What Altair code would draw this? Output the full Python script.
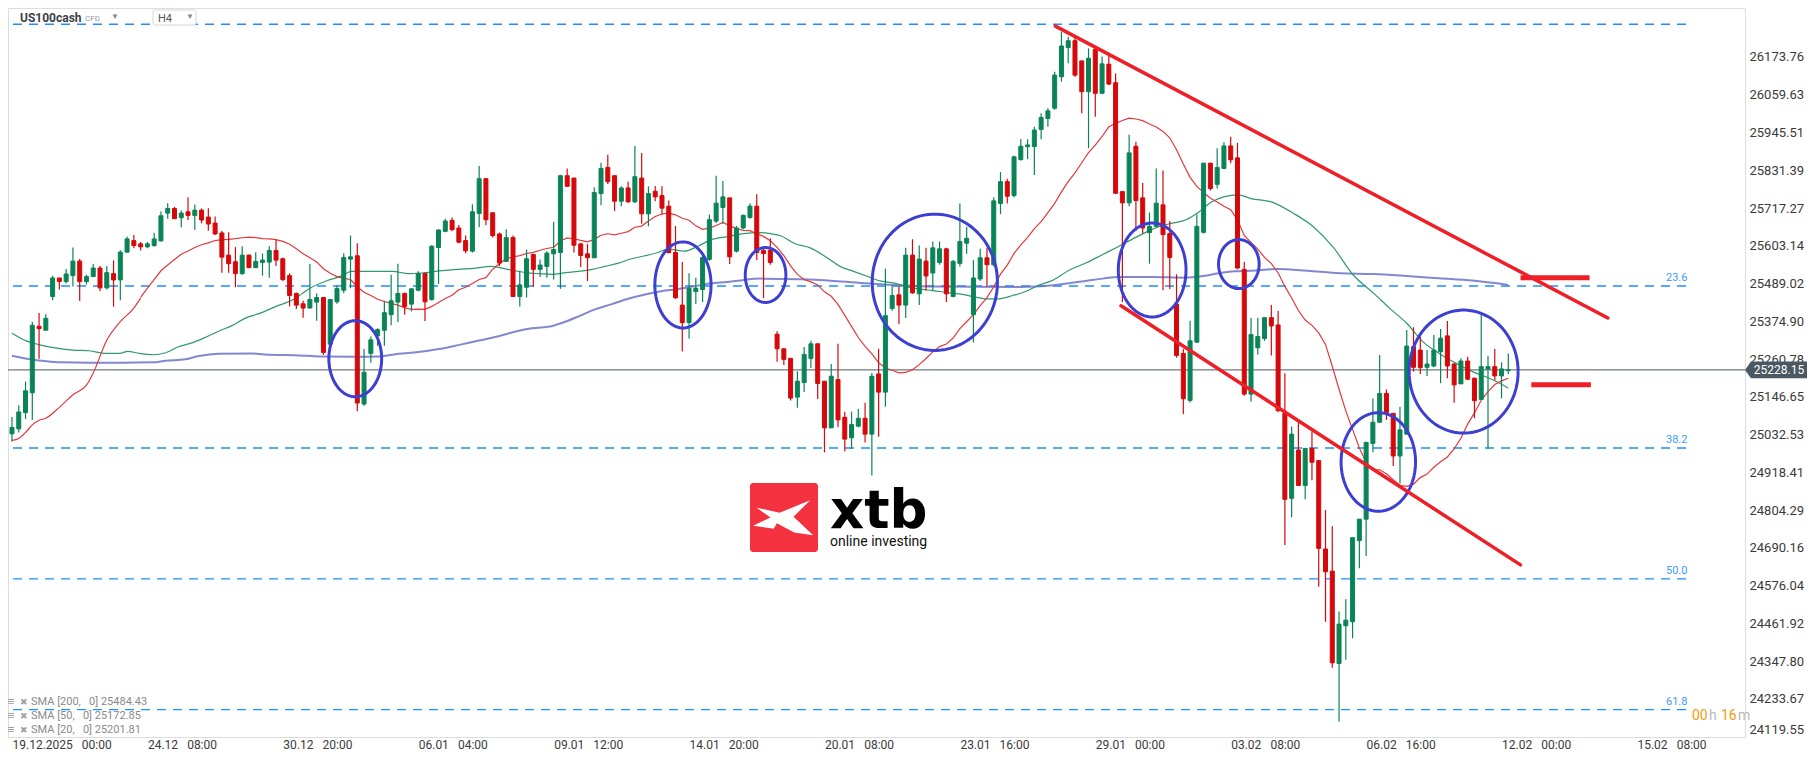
import json
import numpy as np
import pandas as pd
import altair as alt

# ---------------- US100cash H4 candles, index 0 = 19.12.2025 00:00 ----------------
opens = [25035, 25050, 25099, 25159, 25360, 25348, 25450, 25506, 25495, 25513,
         25557, 25495, 25510, 25536, 25476, 25519, 25500, 25584, 25619, 25609,
         25600, 25604, 25618, 25702, 25716, 25688, 25706, 25695, 25711, 25690,
         25672, 25642, 25575, 25555, 25519, 25575, 25537, 25553, 25554, 25589,
         25564, 25513, 25459, 25428, 25415, 25433, 25447, 25306, 25434, 25469,
         25563, 25573, 25125, 25278, 25331, 25348, 25395, 25433, 25459, 25427,
         25469, 25520, 25441, 25598, 25647, 25680, 25657, 25619, 25587, 25701,
         25806, 25703, 25639, 25556, 25628, 25450, 25478, 25577, 25532, 25541,
         25579, 25583, 25815, 25808, 25609, 25579, 25567, 25761, 25840, 25815,
         25738, 25778, 25736, 25808, 25700, 25768, 25755, 25723, 25583, 25424,
         25371, 25465, 25471, 25562, 25678, 25719, 25748, 25587, 25657, 25689,
         25723, 25589, 25589, 25336, 25292, 25263, 25146, 25190, 25263, 25307,
         25194, 25053, 25199, 25085, 25023, 25058, 25082, 25034, 25216, 25161,
         25414, 25455, 25424, 25575, 25458, 25557, 25521, 25553, 25594, 25450,
         25550, 25611, 25395, 25503, 25567, 25546, 25731, 25797, 25755, 25864,
         25903, 25903, 25955, 25988, 26019, 26114, 26202, 26223, 26162, 26069,
         26197, 26064, 26152, 26096, 25767, 25733, 25904, 25748, 25643, 25662,
         25727, 25640, 25427, 25278, 25136, 25312, 25644, 25853, 25789, 25837,
         25905, 25869, 25532, 25155, 25295, 25323, 25386, 25364, 25097, 24840,
         24986, 24879, 24991, 24954, 24687, 24620, 24341, 24455, 24467, 24712,
         24777, 25006, 25070, 25157, 25097, 24968, 25034, 25298, 25288, 25236,
         25240, 25283, 25331, 25246, 25186, 25255, 25203, 25139, 25231, 25238,
         25210, 25226]
highs = [25086, 25121, 25193, 25374, 25400, 25396, 25513, 25506, 25533, 25598,
         25563, 25516, 25548, 25542, 25542, 25559, 25590, 25631, 25636, 25615,
         25615, 25643, 25707, 25732, 25721, 25710, 25750, 25728, 25716, 25717,
         25692, 25648, 25644, 25599, 25602, 25577, 25584, 25580, 25602, 25621,
         25568, 25520, 25462, 25437, 25548, 25459, 25447, 25441, 25484, 25581,
         25634, 25611, 25291, 25329, 25354, 25437, 25516, 25549, 25462, 25475,
         25526, 25522, 25605, 25653, 25685, 25689, 25666, 25634, 25729, 25844,
         25806, 25703, 25643, 25653, 25634, 25528, 25592, 25579, 25562, 25587,
         25676, 25818, 25837, 25808, 25612, 25609, 25780, 25854, 25878, 25815,
         25783, 25797, 25905, 25884, 25783, 25784, 25783, 25740, 25663, 25554,
         25520, 25507, 25573, 25698, 25815, 25799, 25748, 25663, 25698, 25732,
         25759, 25600, 25626, 25345, 25292, 25263, 25224, 25297, 25316, 25307,
         25194, 25246, 25307, 25102, 25102, 25110, 25129, 25219, 25292, 25534,
         25483, 25480, 25597, 25623, 25604, 25597, 25616, 25616, 25597, 25560,
         25731, 25660, 25560, 25594, 25597, 25750, 25826, 25806, 25875, 25926,
         25925, 25963, 26004, 26019, 26129, 26250, 26235, 26235, 26162, 26200,
         26200, 26175, 26180, 26124, 25767, 25939, 25918, 25793, 25704, 25837,
         25831, 25678, 25517, 25291, 25377, 25698, 25853, 25853, 25898, 25916,
         25933, 25914, 25554, 25386, 25386, 25386, 25424, 25406, 25218, 25057,
         25072, 24991, 25042, 24954, 24805, 24756, 24498, 24535, 24721, 24777,
         25011, 25142, 25273, 25169, 25097, 25117, 25349, 25357, 25329, 25288,
         25334, 25352, 25376, 25248, 25263, 25268, 25205, 25394, 25271, 25291,
         25251, 25278]
lows = [25011, 25039, 25080, 25077, 25262, 25348, 25439, 25471, 25489, 25480,
        25436, 25486, 25510, 25466, 25471, 25419, 25439, 25584, 25596, 25589,
        25596, 25600, 25616, 25685, 25685, 25659, 25681, 25651, 25671, 25649,
        25636, 25522, 25522, 25478, 25516, 25537, 25537, 25513, 25507, 25542,
        25497, 25420, 25412, 25386, 25415, 25377, 25274, 25300, 25428, 25460,
        25475, 25103, 25120, 25250, 25301, 25301, 25363, 25373, 25395, 25405,
        25466, 25376, 25437, 25488, 25644, 25647, 25611, 25581, 25583, 25659,
        25665, 25628, 25542, 25556, 25450, 25420, 25447, 25479, 25509, 25507,
        25501, 25473, 25783, 25583, 25539, 25497, 25567, 25726, 25790, 25708,
        25723, 25733, 25732, 25670, 25662, 25738, 25698, 25580, 25443, 25284,
        25323, 25427, 25433, 25558, 25672, 25670, 25548, 25583, 25653, 25685,
        25560, 25445, 25546, 25253, 25243, 25136, 25114, 25161, 25234, 25140,
        24979, 25053, 25055, 24982, 24990, 25055, 25009, 24909, 25026, 25117,
        25407, 25367, 25385, 25458, 25424, 25468, 25469, 25546, 25433, 25448,
        25541, 25579, 25311, 25497, 25480, 25541, 25699, 25731, 25750, 25860,
        25865, 25817, 25925, 25963, 26014, 26099, 26155, 26114, 26004, 25898,
        25993, 26064, 26089, 25760, 25433, 25723, 25649, 25640, 25549, 25659,
        25469, 25473, 25265, 25094, 25130, 25310, 25640, 25770, 25776, 25835,
        25853, 25532, 25150, 25132, 25275, 25316, 25272, 25100, 24699, 24783,
        24879, 24837, 24895, 24573, 24467, 24328, 24165, 24352, 24417, 24629,
        24666, 24979, 25070, 25077, 24938, 24885, 25034, 25223, 25216, 25210,
        25236, 25188, 25203, 25129, 25186, 25198, 25082, 25139, 24991, 25196,
        25142, 25216]
closes = [25054, 25101, 25165, 25363, 25353, 25384, 25506, 25495, 25518, 25557,
          25495, 25510, 25536, 25476, 25522, 25500, 25584, 25624, 25604, 25600,
          25609, 25624, 25694, 25716, 25685, 25702, 25695, 25711, 25681, 25669,
          25639, 25569, 25549, 25519, 25575, 25537, 25556, 25560, 25589, 25560,
          25501, 25453, 25424, 25415, 25441, 25447, 25281, 25441, 25474, 25568,
          25570, 25128, 25221, 25319, 25350, 25401, 25437, 25459, 25420, 25473,
          25520, 25434, 25602, 25651, 25678, 25652, 25614, 25588, 25706, 25806,
          25682, 25634, 25551, 25628, 25450, 25485, 25564, 25532, 25545, 25581,
          25592, 25815, 25783, 25605, 25574, 25567, 25764, 25837, 25797, 25738,
          25778, 25736, 25812, 25700, 25761, 25751, 25717, 25583, 25446, 25371,
          25475, 25475, 25568, 25682, 25732, 25751, 25570, 25657, 25695, 25723,
          25583, 25580, 25553, 25292, 25260, 25143, 25194, 25275, 25307, 25187,
          25053, 25209, 25077, 25019, 25063, 25082, 25034, 25209, 25161, 25392,
          25453, 25424, 25575, 25461, 25563, 25512, 25597, 25594, 25458, 25556,
          25616, 25626, 25506, 25567, 25546, 25739, 25797, 25753, 25872, 25904,
          25908, 25953, 25991, 26011, 26119, 26207, 26223, 26119, 26069, 26170,
          26064, 26153, 26092, 25762, 25733, 25884, 25740, 25657, 25662, 25732,
          25637, 25568, 25272, 25141, 25316, 25662, 25853, 25776, 25840, 25905,
          25863, 25536, 25155, 25335, 25329, 25386, 25361, 25105, 24837, 25034,
          24879, 24991, 24949, 24689, 24618, 24343, 24460, 24472, 24721, 24777,
          25009, 25070, 25157, 25099, 24968, 25047, 25300, 25236, 25235, 25246,
          25288, 25324, 25240, 25183, 25255, 25200, 25135, 25238, 25238, 25210,
          25231, 25228.15]

# ---------------- moving averages (index, price) ----------------
sma20_head = [(0, 25015), (1, 25021), (2, 25039), (3, 25062), (4, 25076), (5, 25082),
              (7, 25115), (9, 25153), (11, 25182), (12, 25219), (14, 25318), (16, 25374),
              (18, 25415), (19, 25445)]
sma50 = [(0, 25339), (2.2, 25315), (4.1, 25304), (6.6, 25294), (9, 25288), (11.4, 25286),
         (13.9, 25278), (15.9, 25278), (17.1, 25284), (18.8, 25278), (20.8, 25274), (22.7, 25280),
         (24.6, 25298), (26.6, 25310), (28.6, 25327), (30.5, 25345), (32.5, 25362), (34.4, 25384),
         (36.6, 25399), (39, 25420), (41.5, 25440), (44, 25475), (46.4, 25497), (48.8, 25513),
         (50.1, 25526), (53.7, 25526), (56.2, 25526), (58.6, 25519), (61, 25522), (63.5, 25528),
         (65.9, 25532), (68.3, 25535), (70.8, 25541), (73.2, 25532), (75.9, 25522), (77.9, 25519),
         (79.8, 25517), (81.8, 25522), (83.7, 25526), (85.7, 25532), (87.6, 25541), (89.6, 25551),
         (91.5, 25564), (93.5, 25573), (95.4, 25583), (96.9, 25593), (99.3, 25587), (101.3, 25602),
         (103.2, 25621), (105.7, 25631), (108.1, 25640), (110.5, 25643), (112, 25640), (113.6, 25633),
         (115.5, 25611), (117.9, 25597), (120.4, 25567), (122.3, 25541), (124.3, 25526), (126.2, 25512),
         (128.2, 25497), (130.2, 25491), (132.1, 25480), (134.1, 25472), (136, 25468), (138, 25462),
         (139.9, 25458), (141.9, 25450), (143.8, 25443), (145.8, 25443), (147.8, 25453), (149.7, 25465),
         (151.3, 25481), (153.8, 25500), (156.2, 25530), (158.6, 25551), (161.1, 25577), (163.5, 25602),
         (165.9, 25628), (168.4, 25653), (170.8, 25669), (173.3, 25681), (175.2, 25704), (177.2, 25736),
         (179.1, 25752), (181.1, 25757), (183, 25746), (186, 25736), (189.3, 25701), (192.2, 25661),
         (195.1, 25600), (198.1, 25515), (201.1, 25460), (203.5, 25414), (206, 25369), (208.4, 25313),
         (210.8, 25278), (213.3, 25248), (215.7, 25223), (218.2, 25203), (220, 25185), (221, 25173)]
sma200 = [(0, 25271), (2.2, 25262), (5.1, 25254), (7.1, 25251), (11.4, 25250), (16.3, 25250),
          (20.8, 25251), (22.7, 25256), (25.6, 25260), (27.6, 25270), (30.5, 25277), (35.4, 25278),
          (37.3, 25275), (42.5, 25272), (45.4, 25269), (51.2, 25268), (54.2, 25269), (57.1, 25277),
          (60, 25282), (63, 25291), (65.9, 25303), (68.8, 25316), (71.7, 25329), (74.7, 25346),
          (76.8, 25354), (79.8, 25361), (81.2, 25370), (83.7, 25390), (86.1, 25411), (88.6, 25427),
          (91, 25443), (93.5, 25456), (95.9, 25466), (98.3, 25472), (100.8, 25481), (103.2, 25490),
          (105.7, 25494), (108.1, 25500), (110.5, 25504), (116.5, 25502), (121.4, 25497), (126.2, 25490),
          (131.1, 25484), (136, 25480), (148.9, 25479), (153.8, 25484), (158.6, 25497), (161.1, 25504),
          (163.5, 25509), (168.4, 25509), (173.3, 25507), (175.7, 25511), (178.2, 25520), (180.6, 25526),
          (183, 25528), (186.9, 25533), (191.3, 25528), (196.2, 25520), (201.1, 25518), (206, 25512),
          (210.8, 25505), (215.7, 25498), (221, 25485)]
sma_legend = ["SMA [200,\u2002 0] 25484.43", "SMA [50,\u2002 0] 25172.85", "SMA [20,\u2002 0] 25201.81"]

# ---------------- Fibonacci levels ----------------
fib_prices = [26272.6, 25481.6, 24992.0, 24596.6, 24201.4]
fib_labels = ["", "23.6", "38.2", "50.0", "61.8"]
FIB_END = 247.9

# ---------------- annotations (index / price units) ----------------
ell_cx = [50.7, 99.1, 111.3, 136.3, 168.4, 181.2, 201.8, 214.4]
ell_cy = [25262, 25485, 25515, 25493, 25530, 25548, 24950, 25223]
ell_rx = [3.9, 4.15, 3.0, 9.25, 5.0, 3.0, 5.5, 8.05]
ell_ry = [115, 130, 83, 206, 142, 74, 149, 186]
trend_id = ["upper", "upper", "lower", "lower"]
trend_i = [154.1, 235.7, 163.8, 222.8]
trend_p = [26267, 25385, 25422, 24639]
level_i0 = [222.8, 224.4]
level_i1 = [233.0, 233.2]
level_p = [25507, 25183]
last_price = 25228.15

# ---------------- axes ----------------
x_ticks = list(range(0, 241, 20))
x_labels = ["19.12.2025 \u200200:00", "24.12 \u200208:00", "30.12 \u200220:00", "06.01 \u200204:00",
            "09.01 \u200212:00", "14.01 \u200220:00", "20.01 \u200208:00", "23.01 \u200216:00",
            "29.01 \u200200:00", "03.02 \u200208:00", "06.02 \u200216:00", "12.02 \u200200:00",
            "15.02 \u200208:00"]
y_ticks = [24119.55, 24233.67, 24347.80, 24461.92, 24576.04, 24690.16, 24804.29, 24918.41,
           25032.53, 25146.65, 25260.78, 25374.90, 25489.02, 25603.14, 25717.27, 25831.39,
           25945.51, 26059.63, 26173.76]

XMIN, XMAX = 0.15, 255.22
PMIN, PMAX = 24118.76, 26321.84
W, H = 1737, 729

GREEN, RED = "#0a8457", "#d5090b"
C20, C50, C200 = "#e3383d", "#2f9a6a", "#6d71c9"
FIB = "#1e8fff"
ELL = "#3d3fd2"
TREND = "#ee1f26"

xs = alt.Scale(domain=[XMIN, XMAX], nice=False, zero=False)
ys = alt.Scale(domain=[PMIN, PMAX], nice=False, zero=False)
XAXIS = alt.Axis(values=x_ticks,
                 labelExpr=json.dumps(x_labels, ensure_ascii=False) + "[round(datum.value/20)]",
                 labelAlign="left", labelBaseline="top", labelPadding=2, ticks=False, domain=False,
                 grid=False, labelFont="Roboto", labelFontSize=12, labelColor="#3a3a3a",
                 labelFlush=False, labelOverlap=False)
YAXIS = alt.Axis(orient="right", values=y_ticks, labelExpr="format(datum.value, '.2f')",
                 ticks=False, domain=False, grid=False, labelPadding=4, labelFont="Roboto",
                 labelFontSize=13, labelColor="#3a3a3a", labelFlush=True, labelOverlap=False)


def X(f):
    return alt.X(f, type="quantitative", scale=xs, axis=XAXIS, title=None)


def Y(f):
    return alt.Y(f, type="quantitative", scale=ys, axis=YAXIS, title=None)


N = len(closes)
candles = pd.DataFrame({"i": np.arange(N), "open": opens, "high": highs, "low": lows, "close": closes})
candles["dir"] = np.where(candles["close"] >= candles["open"], "up", "down")
dir_scale = alt.Scale(domain=["up", "down"], range=[GREEN, RED])

one = pd.DataFrame({"k": [0]})

fib_df = pd.DataFrame({"p": fib_prices, "lab": fib_labels, "x0": XMIN, "x1": FIB_END})
fib_rules = alt.Chart(fib_df).mark_rule(strokeDash=[9, 7], strokeWidth=1.4, color=FIB).encode(
    x=X("x0"), x2="x1", y=Y("p"))
fib_text = alt.Chart(fib_df).mark_text(align="right", baseline="bottom", dx=-3, dy=-3,
                                       fontSize=11, font="Roboto", color="#3d9bff").encode(
    x=X("x1"), y=Y("p"), text="lab:N")

price_line = alt.Chart(pd.DataFrame({"p": [last_price]})).mark_rule(
    color="#4c5863", strokeWidth=1).encode(y=Y("p"))


def sma_df(pairs):
    return pd.DataFrame({"i": [a for a, _ in pairs], "v": [b for _, b in pairs]})


l200 = alt.Chart(sma_df(sma200)).mark_line(interpolate="monotone", strokeWidth=2, color=C200,
                                            opacity=0.85).encode(x=X("i"), y=Y("v"))
l50 = alt.Chart(sma_df(sma50)).mark_line(interpolate="monotone", strokeWidth=1.2, color=C50).encode(
    x=X("i"), y=Y("v"))
l20_head = alt.Chart(sma_df(sma20_head)).mark_line(interpolate="monotone", strokeWidth=1.2,
                                                    color=C20).encode(x=X("i"), y=Y("v"))
l20 = alt.Chart(candles).transform_window(
    sma="mean(close)", frame=[-19, 0], sort=[alt.SortField("i")]
).transform_filter("datum.i >= 19").mark_line(strokeWidth=1.2, color=C20).encode(
    x=X("i"), y=Y("sma"))

wicks = alt.Chart(candles).mark_rule(strokeWidth=1.2).encode(
    x=X("i"), y=Y("low"), y2="high",
    color=alt.Color("dir:N", scale=dir_scale, legend=None))
bodies = alt.Chart(candles).mark_bar(size=4, strokeWidth=1).encode(
    x=X("i"), y=Y("open"), y2="close",
    color=alt.Color("dir:N", scale=dir_scale, legend=None),
    stroke=alt.Stroke("dir:N", scale=dir_scale, legend=None))

t = np.linspace(0, 2 * np.pi, 91)
erows = []
for n, (cx, cy, rx, ry) in enumerate(zip(ell_cx, ell_cy, ell_rx, ell_ry)):
    for k, tt in enumerate(t):
        erows.append({"e": n, "k": k, "x": cx + rx * np.cos(tt), "y": cy + ry * np.sin(tt)})
ell = alt.Chart(pd.DataFrame(erows)).mark_line(strokeWidth=3, color=ELL, strokeJoin="round").encode(
    x=X("x"), y=Y("y"), detail="e:N", order="k:Q")

trend = alt.Chart(pd.DataFrame({"id": trend_id, "i": trend_i, "p": trend_p})).mark_line(
    strokeWidth=3.5, color=TREND, strokeCap="round").encode(x=X("i"), y=Y("p"), detail="id:N")
levels = alt.Chart(pd.DataFrame({"i0": level_i0, "i1": level_i1, "p": level_p})).mark_rule(
    strokeWidth=5, color=TREND).encode(x=X("i0"), x2="i1", y=Y("p"))


def txt(s, x, y, size, color, weight="normal", font="Roboto", align="left", baseline="middle"):
    return alt.Chart(one).mark_text(text=s, fontSize=size, fontWeight=weight, font=font, color=color,
                                    align=align, baseline=baseline).encode(
        x=alt.value(x), y=alt.value(y))


# header
h_box = alt.Chart(one).mark_rect(fill="white", stroke="#d6d6d6", strokeWidth=1, cornerRadius=2).encode(
    x=alt.value(145), x2=alt.value(188), y=alt.value(2), y2=alt.value(17))
header = [
    txt("US100cash", 12, 10, 12, "#3a4149", "bold"),
    txt("CFD", 77, 11, 8, "#9a9a9a"),
    txt("\u25bc", 103, 9, 8, "#8a8a8a"),
    h_box,
    txt("H4", 150, 11, 11, "#555555"),
    txt("\u25bc", 178, 9, 8, "#8a8a8a"),
]

legend = []
for lab, yy in zip(sma_legend, [693.7, 707.7, 721.7]):
    legend += [txt("\u2261", -1, yy, 13, "#a0a0a0", "bold"),
               txt("\u2716", 12, yy, 9, "#a0a0a0"),
               txt(lab, 23, yy, 11, "#8a8a8a")]

timer = [txt("00", 1684, 708, 14, "#f39c12"), txt("h", 1701, 708, 14, "#b8b8b8"),
         txt("16", 1713, 708, 14, "#f39c12"), txt("m", 1730, 708, 14, "#b8b8b8")]

# xtb logo
logo_box = alt.Chart(one).mark_rect(color="#f4313f", cornerRadius=3).encode(
    x=alt.value(742), x2=alt.value(810), y=alt.value(475), y2=alt.value(544))
XPATH = ("M -0.81 -0.29 L -0.13 -0.14 L 0.77 -0.51 L 0.28 -0.02 L 0.86 0.52 "
         "L 0.30 0.44 L -0.21 0.17 L -0.30 0.33 L -0.91 0.24 L -0.40 0.0 Z")
logo_x = alt.Chart(one).mark_point(shape=XPATH, size=4624, filled=True, color="white",
                                   opacity=1, strokeWidth=0).encode(
    x=alt.value(776), y=alt.value(509.5))
logo = [logo_box, logo_x,
        txt("xtb", 822, 520, 53, "#000000", "bold", font="DejaVu Sans", baseline="alphabetic"),
        txt("online investing", 822, 538, 14, "#111111", baseline="alphabetic")]

# price tag
TAG = "M -1 0 L -0.83 -0.24 L 1 -0.24 L 1 0.24 L -0.83 0.24 Z"
pdf = pd.DataFrame({"p": [last_price], "s": ["25228.15"]})
tag = alt.Chart(pdf).mark_point(shape=TAG, size=4900, filled=True, color="#4b5864", opacity=1,
                                strokeWidth=0).encode(x=alt.value(1772), y=Y("p"))
tag_text = alt.Chart(pdf).mark_text(fontSize=12, font="Roboto", color="white", align="center",
                                    baseline="middle").encode(x=alt.value(1771), y=Y("p"), text="s:N")

chart = alt.layer(
    fib_rules, fib_text, price_line, l200, l50, l20_head, l20, wicks, bodies, ell, trend, levels,
    *header, *legend, *timer, *logo, tag, tag_text
).properties(
    width=W, height=H,
    padding={"left": 0, "top": 0, "right": 62, "bottom": 16},
    autosize=alt.AutoSizeParams(type="none"),
).configure_view(stroke=None).configure(background="white")

chart.save("out.html", embed_options={"renderer": "svg", "actions": False})
